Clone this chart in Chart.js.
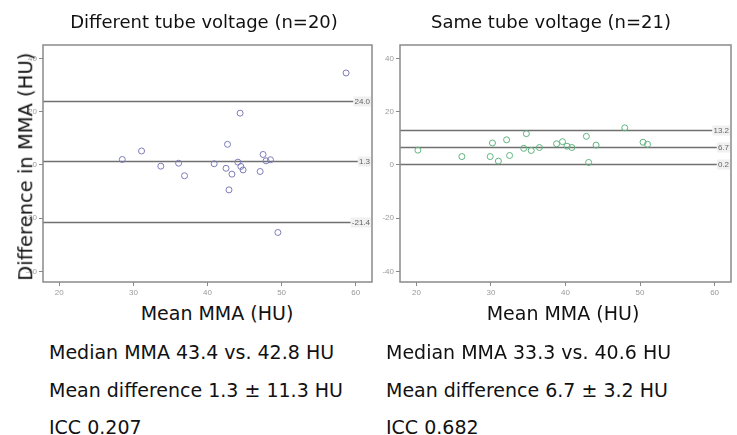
<!DOCTYPE html>
<html>
<head>
<meta charset="utf-8">
<script src="https://cdn.jsdelivr.net/npm/chart.js@4.4.0/dist/chart.umd.min.js"></script>
<style>
  body { margin: 0; background: #fff; width: 737px; height: 435px; position: relative; overflow: hidden; font-family: "DejaVu Sans", sans-serif; color: #111; }
  .txt { position: absolute; white-space: nowrap; line-height: 1; }
  .box { position: absolute; top: 0; }
</style>
</head>
<body>
<div class="box" style="left:0px"><canvas id="left" width="380" height="300"></canvas></div>
<div class="box" style="left:357px"><canvas id="right" width="380" height="300"></canvas></div>

<div class="txt" style="left:54px;width:300px;text-align:center;top:13px;font-size:18px">Different tube voltage (n=20)</div>
<div class="txt" style="left:401px;width:300px;text-align:center;top:13px;font-size:18px">Same tube voltage (n=21)</div>

<div class="txt" style="left:67px;width:300px;text-align:center;top:304px;font-size:19px">Mean MMA (HU)</div>
<div class="txt" style="left:413px;width:300px;text-align:center;top:304px;font-size:19px">Mean MMA (HU)</div>

<div class="txt" style="left:-124px;width:300px;text-align:center;top:157px;font-size:19.5px;transform:rotate(-90deg)">Difference in MMA (HU)</div>

<div class="txt" style="left:49px;top:343px;font-size:19px">Median MMA 43.4 vs. 42.8 HU</div>
<div class="txt" style="left:49px;top:381px;font-size:19px">Mean difference 1.3 ± 11.3 HU</div>
<div class="txt" style="left:49px;top:418px;font-size:19px">ICC 0.207</div>

<div class="txt" style="left:386px;top:343px;font-size:19px">Median MMA 33.3 vs. 40.6 HU</div>
<div class="txt" style="left:386px;top:381px;font-size:19px">Mean difference 6.7 ± 3.2 HU</div>
<div class="txt" style="left:386px;top:418px;font-size:19px">ICC 0.682</div>

<script>
// different tube voltage: mean of both, difference
const leftMean = [58.7, 44.4, 42.7, 31.1, 47.5, 28.5, 48.5, 47.9, 44.1, 36.1, 40.9, 33.7, 44.5, 42.5, 44.8, 47.1, 43.3, 36.9, 42.9, 49.5];
const leftDiff = [34.5, 19.4, 7.7, 5.2, 3.9, 2.0, 1.9, 1.5, 1.0, 0.6, 0.4, -0.5, -0.6, -1.3, -1.9, -2.5, -3.5, -4.1, -9.4, -25.4];
const leftLimits = [24.0, 1.3, -21.4];

// same tube voltage
const rightMean = [47.95, 34.75, 42.8, 32.1, 39.6, 50.4, 30.2, 38.8, 51.0, 44.1, 40.2, 40.85, 36.5, 34.4, 20.2, 35.4, 32.5, 26.1, 29.9, 31.0, 43.1];
const rightDiff = [13.9, 11.7, 10.7, 9.4, 8.7, 8.5, 8.2, 7.9, 7.7, 7.4, 7.0, 6.5, 6.5, 6.2, 5.5, 5.4, 3.5, 3.1, 3.1, 1.4, 0.9];
const rightLimits = [13.2, 6.7, 0.2];

const xTicks = [20, 30, 40, 50, 60];
const yTicks = [-40, -20, 0, 20, 40];

const limitPlugin = {
  id: 'limits',
  beforeDatasetsDraw(chart, args, opts) {
    const ctx = chart.ctx;
    const area = chart.chartArea;
    const y = chart.scales.y;
    ctx.save();
    ctx.font = '8px Arial';
    (opts.values || []).forEach(v => {
      const py = Math.round(y.getPixelForValue(v)) + 0.5;
      const label = v.toFixed(1);
      const w = ctx.measureText(label).width + 2;
      const bx = area.right - 1 - w;
      ctx.strokeStyle = '#707070';
      ctx.lineWidth = 1.3;
      ctx.beginPath();
      ctx.moveTo(area.left, py);
      ctx.lineTo(bx, py);
      ctx.stroke();
      ctx.fillStyle = '#f0f0f0';
      ctx.fillRect(bx, py - 5, w, 10);
      ctx.fillStyle = '#666';
      ctx.textAlign = 'right';
      ctx.textBaseline = 'middle';
      ctx.fillText(label, area.right - 2, py);
    });
    ctx.restore();
  },
  afterDraw(chart) {
    const ctx = chart.ctx;
    const a = chart.chartArea;
    ctx.save();
    ctx.strokeStyle = '#8a8a8a';
    ctx.lineWidth = 1.5;
    ctx.strokeRect(a.left, a.top, a.right - a.left, a.bottom - a.top);
    ctx.restore();
  }
};

function makeChart(id, xs, ys, limits, color, padRight) {
  const pts = xs.map((x, i) => ({ x: x, y: ys[i] }));
  return new Chart(document.getElementById(id), {
    type: 'scatter',
    data: {
      datasets: [{
        data: pts,
        pointStyle: 'circle',
        pointRadius: 3,
        pointBorderWidth: 1,
        borderColor: color,
        backgroundColor: 'rgba(0,0,0,0)'
      }]
    },
    options: {
      responsive: false,
      devicePixelRatio: 1,
      animation: false,
      events: [],
      layout: { padding: { top: 45, right: padRight, left: 0, bottom: 0 } },
      plugins: {
        legend: { display: false },
        tooltip: { enabled: false },
        limits: { values: limits }
      },
      scales: {
        x: {
          type: 'linear',
          min: 17.8,
          max: 62.2,
          afterBuildTicks: s => { s.ticks = xTicks.map(v => ({ value: v })); },
          afterFit: s => { s.height = 18; },
          grid: { drawOnChartArea: false, drawTicks: true, tickLength: 4, color: '#888' },
          border: { display: false },
          ticks: { color: '#999', font: { size: 8, family: 'Arial' }, padding: 2 }
        },
        y: {
          type: 'linear',
          min: -44,
          max: 45,
          afterBuildTicks: s => { s.ticks = yTicks.map(v => ({ value: v })); },
          afterFit: s => { s.width = 43; },
          grid: { drawOnChartArea: false, drawTicks: true, tickLength: 4, color: '#888' },
          border: { display: false },
          ticks: { color: '#999', font: { size: 8, family: 'Arial' }, padding: 2 }
        }
      }
    },
    plugins: [limitPlugin]
  });
}

makeChart('left', leftMean, leftDiff, leftLimits, '#7c7cb8', 8);
makeChart('right', rightMean, rightDiff, rightLimits, '#5fb37f', 6);
</script>
</body>
</html>
